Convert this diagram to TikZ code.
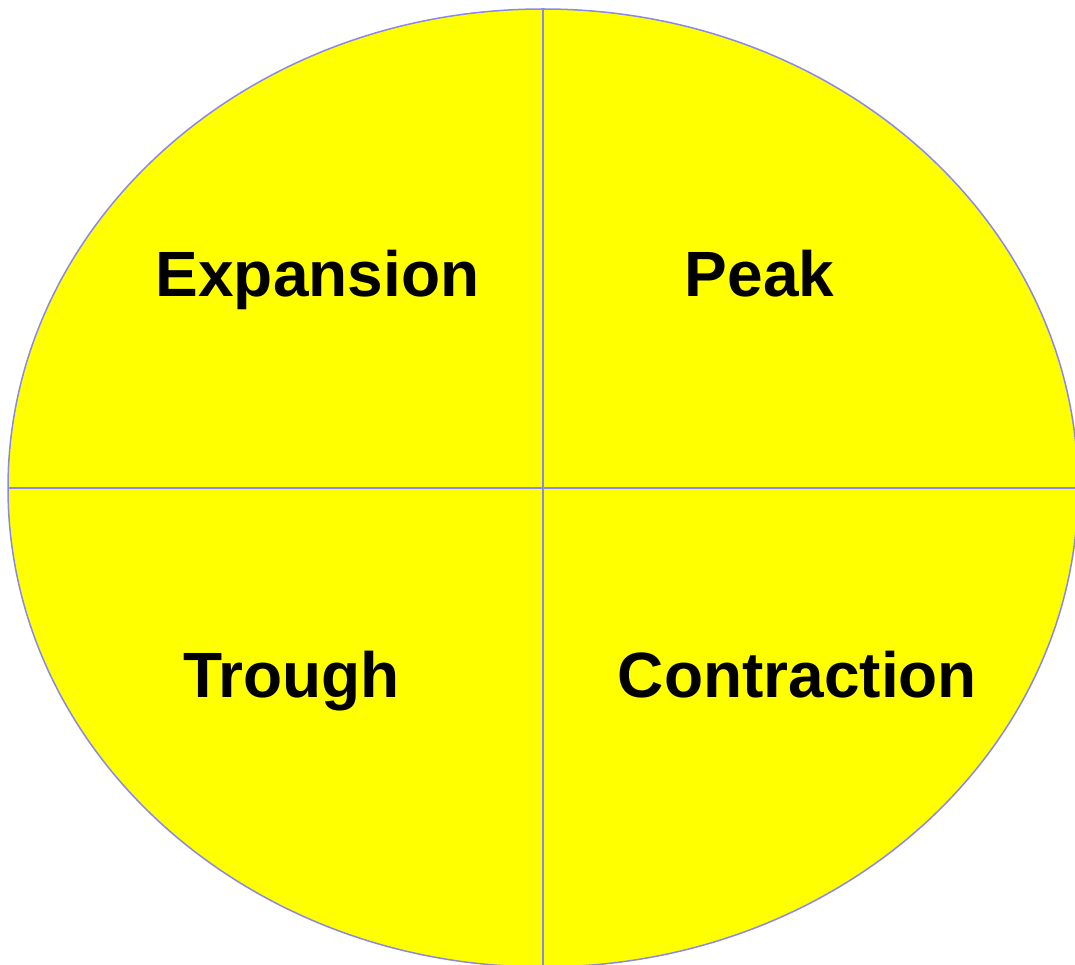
\documentclass[tikz,border=0pt]{standalone}
\usepackage{fontspec}
\setmainfont{Liberation Sans}
\begin{document}
\begin{tikzpicture}[x=1pt,y=-1pt,
  rule/.style={draw={rgb,255:red,136;green,136;blue,238}, line width=2pt},
  phase/.style={font=\fontsize{64}{70}\selectfont\bfseries, anchor=base, inner sep=0pt}]
\useasboundingbox (0,0) rectangle (1075,965);
\clip (0,0) rectangle (1075,965);
% the cycle disc
\filldraw[fill={rgb,255:red,255;green,255;blue,0}, draw={rgb,255:red,136;green,136;blue,238}, line width=1.5pt]
  (543,488) ellipse [x radius=535, y radius=479];
% quadrant dividers
\coordinate (top) at (543,9);
\coordinate (bottom) at (543,965);
\coordinate (left) at (8,488);
\coordinate (right) at (1075,488);
\draw[rule] (top) -- (bottom);
\draw[rule] (left) -- (right);
% phase labels
\node[phase] (expansion) at (317.5,297) {Expansion};
\node[phase] (peak) at (759.5,297) {Peak};
\node[phase] (trough) at (291.5,697) {Trough};
\node[phase] (contraction) at (797.5,697) {Contraction};
\end{tikzpicture}
\end{document}
